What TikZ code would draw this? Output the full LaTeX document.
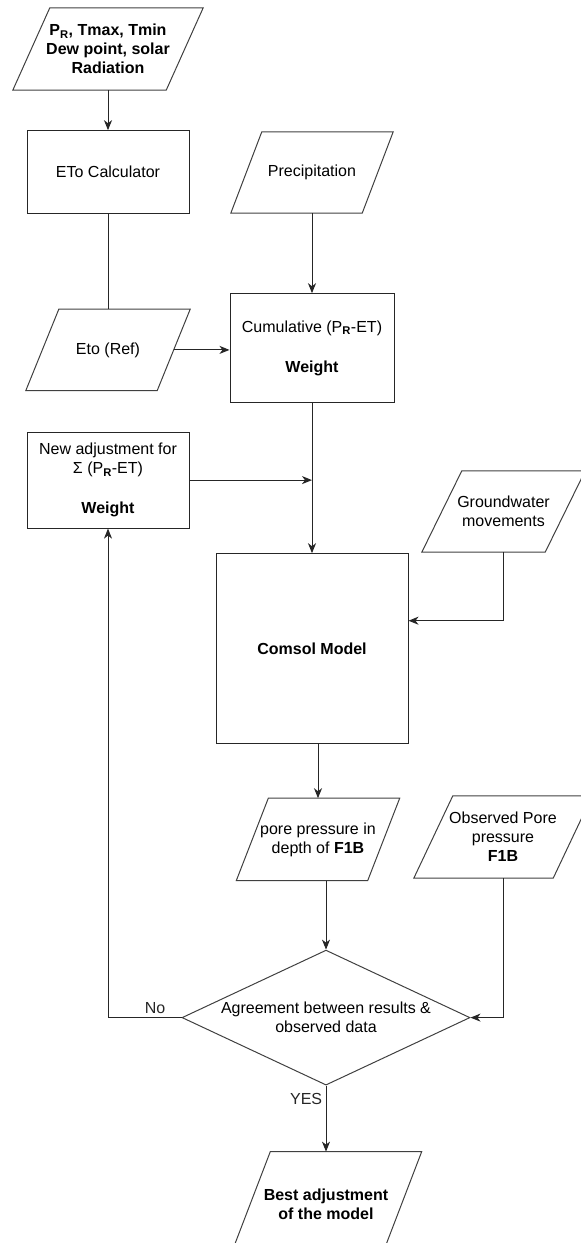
\documentclass[tikz,border=0pt]{standalone}
\usepackage{fontspec}
\setmainfont{Liberation Sans}
\usetikzlibrary{shapes.geometric, arrows.meta, positioning}
\tikzset{
  tilt/.code={\xdef\datatilt{#1}},
  process/.style={
    rectangle, draw=black!85, line width=1pt, align=center, inner sep=2pt
  },
  data/.style={
    rectangle, align=center, inner sep=1pt, minimum width=164pt, minimum height=82pt,
    tilt=34pt,
    append after command={\pgfextra{
      \draw[draw=black!75, line width=1pt]
        ([xshift=\datatilt]\tikzlastnode.north west) -- (\tikzlastnode.north east)
        -- ([xshift=-\datatilt]\tikzlastnode.south east) -- (\tikzlastnode.south west)
        -- cycle;}}
  },
  decision/.style={
    diamond, draw=black!75, line width=1pt, align=center, inner sep=0pt,
    aspect=2.13, minimum width=288pt, minimum height=135pt
  },
  arrow/.style={-{Stealth[length=10pt, width=8pt, inset=3pt]}, line width=1pt, color=black!85},
  link/.style={line width=1pt, color=black!85}
}
\begin{document}
\begin{tikzpicture}[x=1pt, y=-1pt, font=\fontsize{16}{19}\selectfont]
  \useasboundingbox (0,0) rectangle (581,1243);
  % left column
  \node[data, minimum width=190pt, tilt=37pt,
    font=\fontsize{16}{19}\selectfont\bfseries] (inputs) at (108,49)
    {P\textsubscript{R}, Tmax, Tmin\\Dew point, solar\\Radiation};
  \node[process, minimum width=162pt, minimum height=83pt, below=40pt of inputs] (etocalc)
    {ETo Calculator};
  \node[data, minimum height=81pt, tilt=33pt, below=95pt of etocalc] (eto) {Eto (Ref)};
  \node[process, minimum width=162pt, minimum height=96pt, below=41pt of eto] (newadj)
    {New adjustment for\\Σ (P\textsubscript{\textbf{R}}-ET)\\[21pt]\textbf{Weight}};

  % middle column
  \node[data, minimum width=162pt, minimum height=81pt, tilt=31pt] (precip) at (312,172.5)
    {Precipitation};
  \node[process, minimum width=164pt, minimum height=109pt, below=80pt of precip] (cumul)
    {Cumulative (P\textsubscript{\textbf{R}}-ET)\\[21pt]\textbf{Weight}};
  \node[process, minimum width=192pt, minimum height=190pt, below=150pt of cumul,
    font=\fontsize{16}{19}\selectfont\bfseries] (comsol) {Comsol Model};
  \node[data, minimum width=163pt, tilt=32pt, below=54pt of comsol, xshift=6pt] (pore)
    {pore pressure in\\depth of \textbf{F1B}};
  \node[decision, below=69pt of pore, xshift=8pt] (check)
    {Agreement between results \&\\observed data};
  \node[data, minimum width=191pt, minimum height=104pt, tilt=40pt, below=66pt of check,
    font=\fontsize{16}{19}\selectfont\bfseries] (best) {Best adjustment\\of the model};

  % right column
  \node[data, minimum width=163pt, minimum height=81pt, tilt=40pt] (ground) at (503.5,511.5)
    {Groundwater\\movements};
  \node[data, minimum width=178pt, tilt=39pt] (observed) at (503,837)
    {Observed Pore\\pressure\\\textbf{F1B}};

  \draw[arrow] (inputs) -- (etocalc);
  \draw[link] (etocalc) -- (eto);
  \draw[arrow] (precip) -- (cumul);
  \draw[arrow] ([xshift=-16pt]eto.east) -- (eto.east -| cumul.west);
  \draw[arrow] (cumul) -- (comsol);
  \draw[arrow] (newadj.east) -- (newadj.east -| cumul.south);
  \draw[arrow] (ground.south) |- ([yshift=28pt]comsol.east);
  \draw[arrow] (pore.north |- comsol.south) -- (pore.north);
  \draw[arrow] (check.north |- pore.south) -- (check.north);
  \draw[arrow] (observed.south) |- (check.east);
  \draw[arrow] (check.west) -| node[pos=0.18, above] {No} (newadj.south);
  \draw[arrow] (check.south) -- node[pos=0.2, left] {YES} (best.north);
\end{tikzpicture}
\end{document}
